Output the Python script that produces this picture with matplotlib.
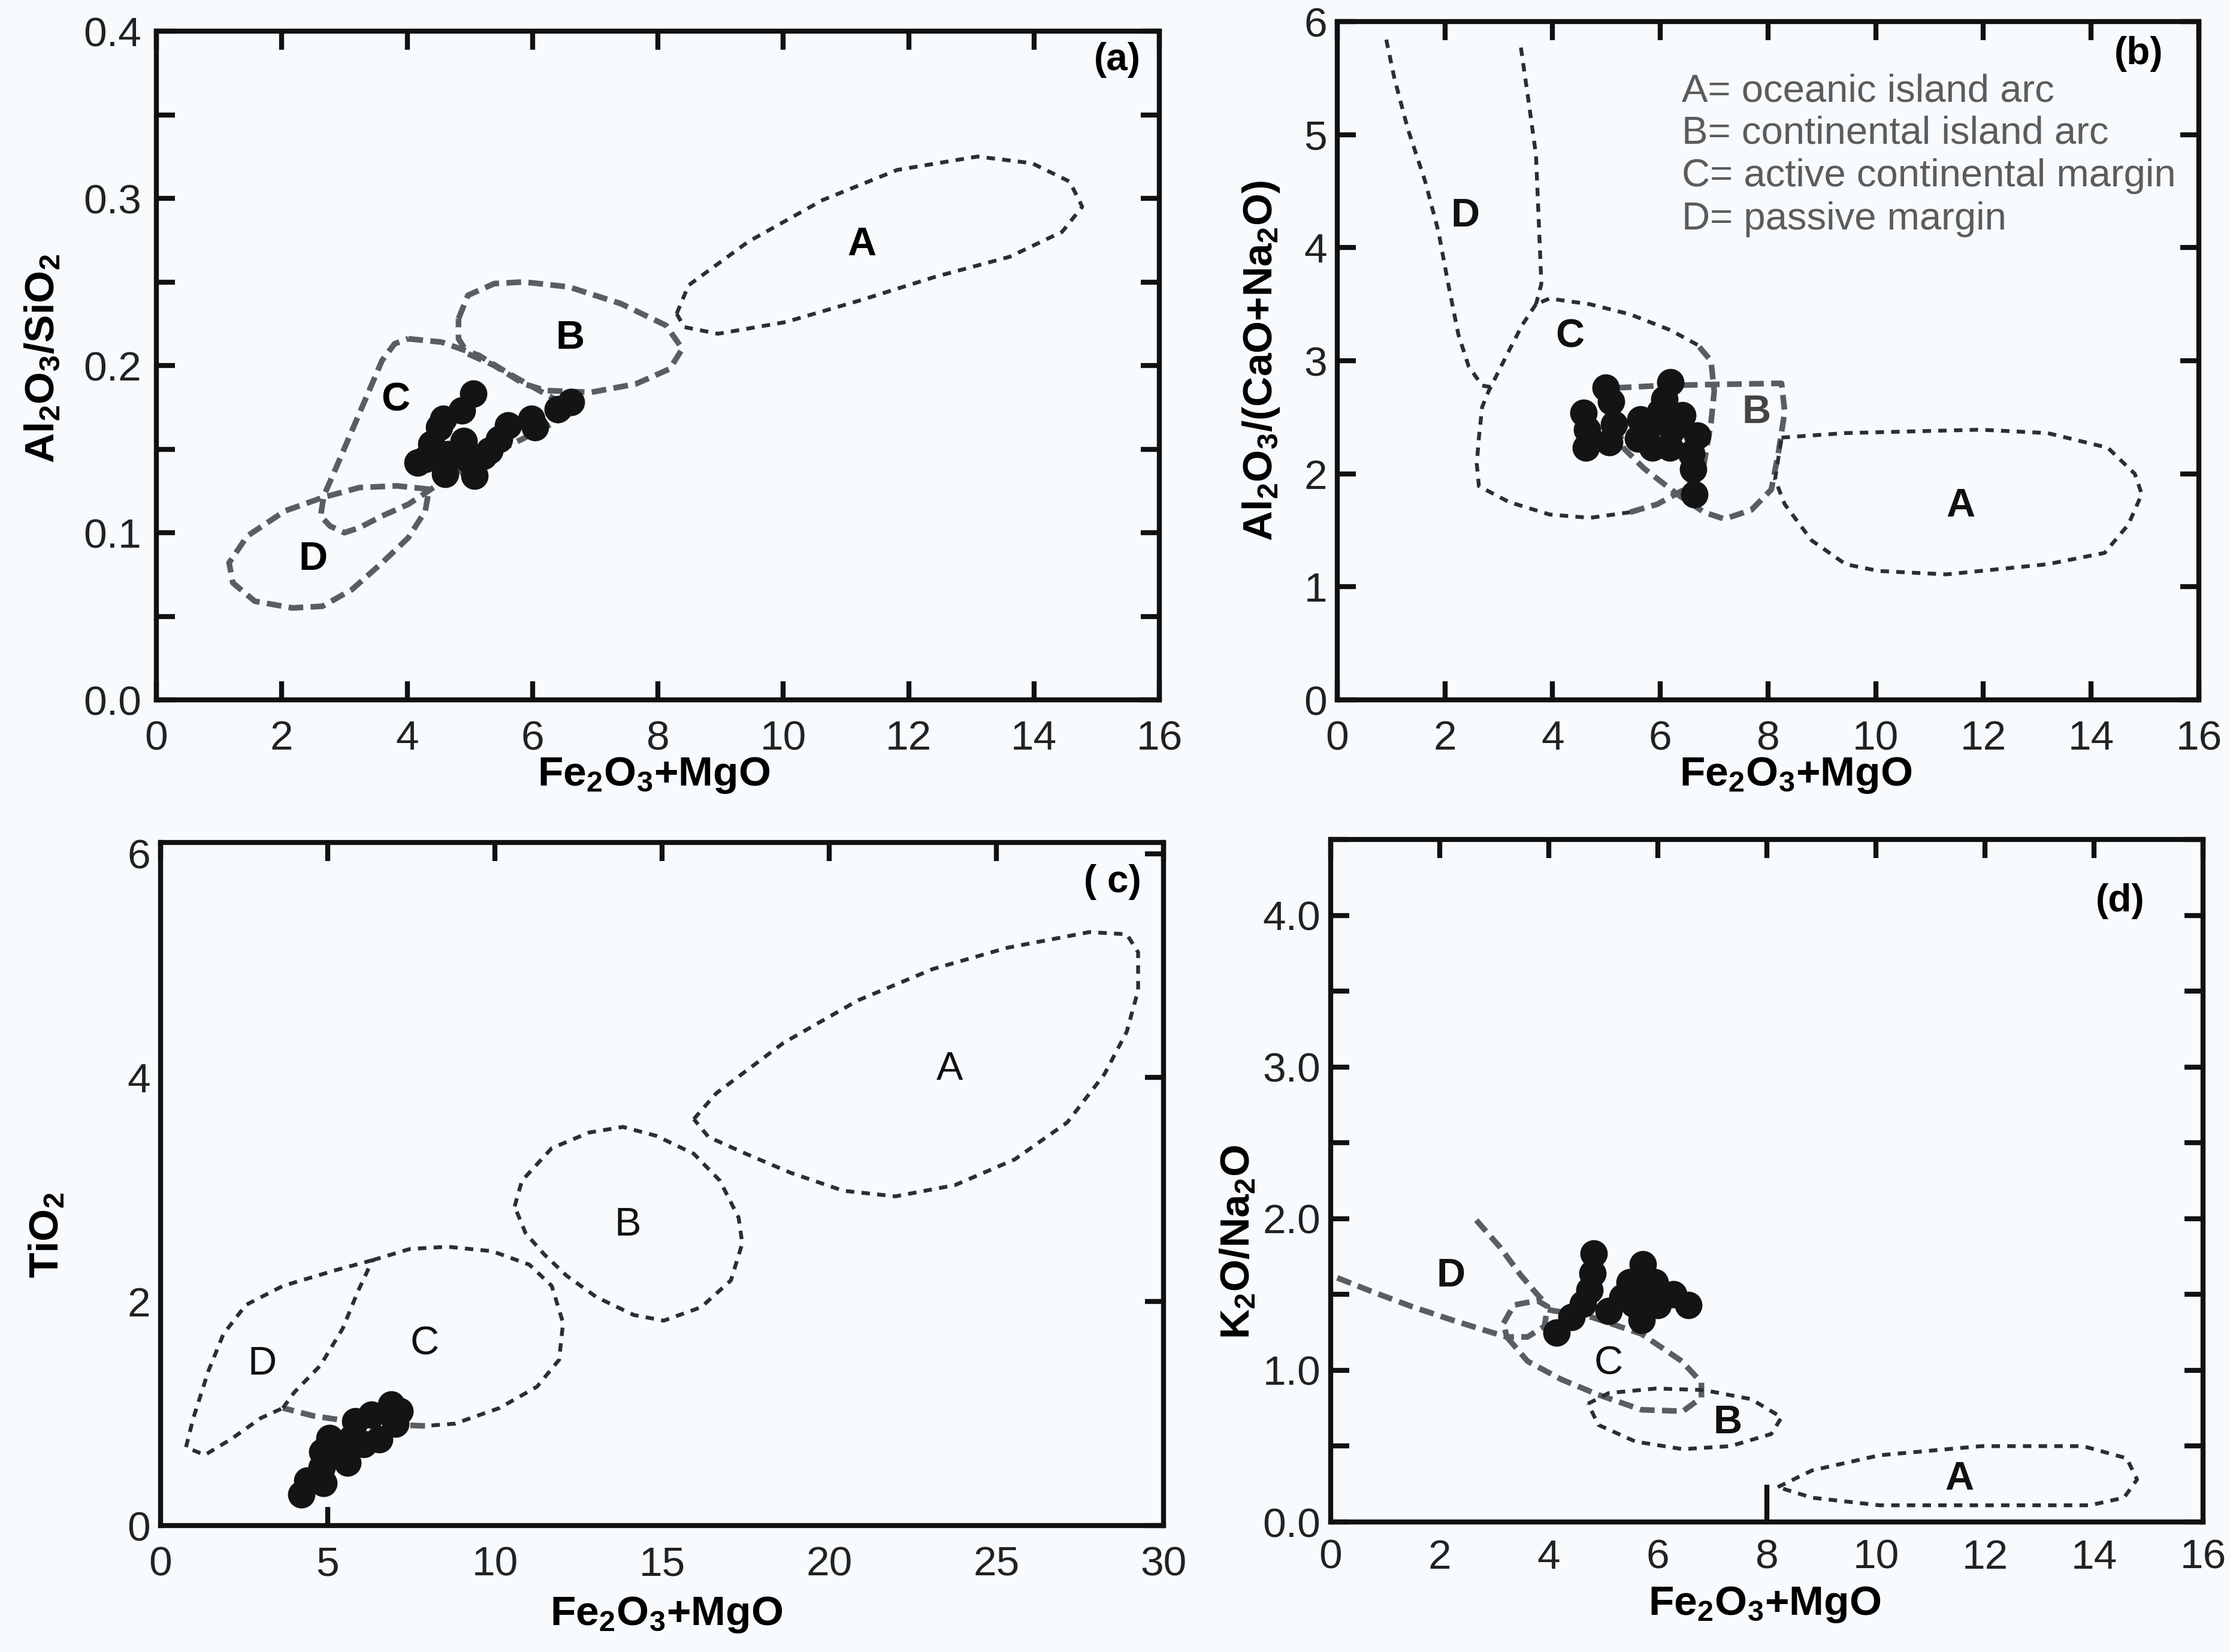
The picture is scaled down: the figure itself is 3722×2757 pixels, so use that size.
import matplotlib
matplotlib.use('Agg')
import matplotlib.pyplot as plt
from matplotlib.ticker import MultipleLocator

plt.rcParams['font.family'] = ['Liberation Sans Narrow', 'DejaVu Sans Condensed', 'Liberation Sans', 'DejaVu Sans']
plt.rcParams['mathtext.fontset'] = 'custom'
plt.rcParams['mathtext.rm'] = 'Liberation Sans'
plt.rcParams['mathtext.it'] = 'Liberation Sans:italic'
plt.rcParams['mathtext.bf'] = 'Liberation Sans:bold'

# ---------------- data: panel (a) ----------------
a_A_x = [8.30, 8.49, 9.44, 10.63, 11.82, 13.1, 13.97, 14.57, 14.77, 14.45, 13.61, 12.42, 11.23, 10.04, 8.96, 8.42, 8.30]
a_A_y = [0.231, 0.248, 0.274, 0.299, 0.317, 0.325, 0.321, 0.310, 0.295, 0.280, 0.265, 0.253, 0.239, 0.226, 0.219, 0.223, 0.231]
a_B_x = [4.82, 4.97, 5.39, 5.86, 6.58, 7.41, 8.13, 8.39, 8.19, 7.65, 6.94, 6.22, 5.86, 5.39, 4.97, 4.82, 4.82]
a_B_y = [0.228, 0.242, 0.249, 0.250, 0.247, 0.237, 0.224, 0.210, 0.198, 0.189, 0.184, 0.185, 0.189, 0.200, 0.207, 0.216, 0.228]
a_C_x = [4.02, 4.55, 5.15, 5.63, 6.11, 6.45, 6.75, 6.30, 5.89, 5.40, 4.90, 4.50, 4.30,
         4.02, 3.60, 3.24, 3.00, 2.77, 2.62, 2.67, 2.88, 3.12, 3.36, 3.60, 3.80, 4.02]
a_C_y = [0.216, 0.214, 0.206, 0.195, 0.185, 0.178, 0.174, 0.165, 0.157, 0.148, 0.137, 0.129, 0.124,
         0.117, 0.110, 0.103, 0.100, 0.104, 0.110, 0.122, 0.140, 0.161, 0.182, 0.203, 0.213, 0.216]
a_D_x = [4.35, 3.84, 3.24, 2.65, 2.05, 1.45, 1.16, 1.22, 1.57, 2.17, 2.65, 3.12, 3.60, 4.02, 4.29, 4.35]
a_D_y = [0.126, 0.128, 0.127, 0.121, 0.113, 0.098, 0.082, 0.070, 0.059, 0.055, 0.056, 0.066, 0.082, 0.097, 0.113, 0.126]
a_pts_x = [5.06, 4.87, 4.58, 4.51, 4.39, 4.17, 4.61, 4.90, 4.96, 5.08, 5.31, 5.47, 5.61, 5.98, 6.04, 6.40, 6.61, 5.22, 4.65, 4.29]
a_pts_y = [0.183, 0.173, 0.168, 0.163, 0.153, 0.142, 0.135, 0.155, 0.144, 0.134, 0.149, 0.156, 0.164, 0.168, 0.163, 0.174, 0.178, 0.146, 0.147, 0.144]
a_labels = ['A', 'B', 'C', 'D']
a_lab_x = [11.25, 6.6, 3.82, 2.5]
a_lab_y = [0.272, 0.216, 0.179, 0.084]

# ---------------- data: panel (b) ----------------
b_D1_x = [0.91, 1.06, 1.31, 1.63, 1.88, 2.06, 2.25, 2.44, 2.69, 2.94]
b_D1_y = [5.84, 5.50, 5.05, 4.59, 4.14, 3.68, 3.23, 2.95, 2.78, 2.76]
b_D2_x = [3.41, 3.56, 3.69, 3.75, 3.79, 3.69]
b_D2_y = [5.77, 5.27, 4.82, 4.14, 3.68, 3.50]
b_C_x = [3.69, 3.44, 3.19, 3.00, 2.81, 2.69, 2.63, 2.59, 2.63, 3.19, 3.94, 4.69, 5.44,
         5.94, 6.44, 6.81, 6.94, 7.00, 6.94, 6.69, 6.19, 5.44, 4.69, 3.94, 3.69]
b_C_y = [3.50, 3.32, 3.09, 2.91, 2.73, 2.59, 2.32, 2.09, 1.89, 1.75, 1.64, 1.61, 1.66,
         1.73, 1.86, 2.09, 2.45, 2.73, 3.00, 3.14, 3.27, 3.41, 3.50, 3.55, 3.50]
b_B_x = [5.19, 6.00, 7.00, 8.25, 8.31, 8.19, 8.06, 7.69, 7.19, 6.81, 6.31, 5.69, 5.31, 5.19, 5.19]
b_B_y = [2.76, 2.78, 2.79, 2.80, 2.55, 2.18, 1.86, 1.68, 1.60, 1.66, 1.82, 2.05, 2.23, 2.50, 2.76]
b_A_x = [8.25, 9.44, 11.94, 13.19, 14.31, 14.81, 14.94, 14.69, 14.25, 13.19, 11.31, 10.06, 9.44, 8.81, 8.31, 8.13, 8.25]
b_A_y = [2.32, 2.36, 2.39, 2.36, 2.23, 2.00, 1.82, 1.55, 1.30, 1.20, 1.11, 1.14, 1.20, 1.41, 1.73, 1.95, 2.32]
b_pts_x = [4.99, 5.08, 4.57, 4.64, 4.62, 5.05, 5.14, 5.63, 5.58, 5.85, 6.19, 6.08, 6.00, 6.41, 6.22, 6.18, 6.69, 6.58, 6.61, 6.63, 5.80]
b_pts_y = [2.76, 2.64, 2.54, 2.39, 2.23, 2.28, 2.44, 2.48, 2.31, 2.23, 2.81, 2.66, 2.55, 2.52, 2.39, 2.23, 2.34, 2.18, 2.04, 1.82, 2.43]
b_labels = ['D', 'C', 'B', 'A']
b_lab_x = [2.38, 4.32, 7.78, 11.58]
b_lab_y = [4.28, 3.21, 2.54, 1.71]
b_legend = ['A= oceanic island arc', 'B= continental island arc',
            'C= active continental margin', 'D= passive margin']
b_leg_y = [5.38, 5.01, 4.63, 4.25]

# ---------------- data: panel (c) ----------------
c_A_x = [15.95, 16.62, 18.63, 20.86, 23.10, 25.33, 27.79, 28.90, 29.24, 29.24, 28.90, 28.23, 27.12,
         25.55, 23.76, 21.98, 20.42, 18.85, 17.51, 16.39, 15.95]
c_A_y = [3.63, 3.86, 4.31, 4.69, 4.97, 5.16, 5.30, 5.28, 5.12, 4.78, 4.41, 4.03, 3.60,
         3.27, 3.04, 2.94, 2.99, 3.15, 3.32, 3.47, 3.63]
c_B_x = [10.59, 10.81, 11.70, 12.82, 13.83, 14.83, 15.95, 16.73, 17.29, 17.40, 17.06, 16.17, 15.05,
         14.16, 13.04, 12.15, 11.48, 10.92, 10.59]
c_B_y = [2.85, 3.08, 3.37, 3.51, 3.56, 3.48, 3.32, 3.08, 2.75, 2.52, 2.19, 1.95, 1.83,
         1.88, 2.04, 2.23, 2.42, 2.61, 2.85]
c_C_x = [6.34, 7.46, 8.58, 9.92, 11.03, 11.70, 12.04, 11.92, 11.26, 10.14, 8.80, 7.91,
         7.01, 5.67, 4.56, 3.66, 4.00, 4.78, 5.45, 5.90, 6.34]
c_C_y = [2.37, 2.47, 2.49, 2.45, 2.33, 2.14, 1.81, 1.48, 1.24, 1.05, 0.91, 0.89,
         0.90, 0.93, 0.98, 1.05, 1.19, 1.43, 1.76, 2.09, 2.37]
c_D_x = [6.34, 5.23, 3.66, 2.55, 1.88, 1.43, 0.98, 0.76, 1.32, 2.10, 3.00, 3.66]
c_D_y = [2.37, 2.28, 2.14, 1.97, 1.71, 1.38, 0.96, 0.70, 0.63, 0.77, 0.96, 1.05]
c_pts_x = [4.21, 4.39, 4.87, 4.82, 4.84, 5.05, 5.59, 5.23, 5.82, 6.31, 6.90, 7.03, 6.54, 6.08, 5.72, 5.41, 7.15]
c_pts_y = [0.28, 0.40, 0.38, 0.52, 0.66, 0.78, 0.56, 0.63, 0.93, 0.99, 1.08, 0.91, 0.77, 0.73, 0.78, 0.70, 1.02]
c_labels = ['A', 'B', 'C', 'D']
c_lab_x = [23.6, 13.98, 7.9, 3.04]
c_lab_y = [4.07, 2.68, 1.62, 1.44]

# ---------------- data: panel (d) ----------------
d_D1_x = [0.12, 0.75, 1.49, 2.24, 2.86, 3.23]
d_D1_y = [1.61, 1.52, 1.42, 1.33, 1.26, 1.22]
d_D2_x = [2.67, 3.11, 3.48, 3.79, 3.92]
d_D2_y = [1.99, 1.81, 1.63, 1.50, 1.45]
d_loop_x = [3.17, 3.36, 3.79, 3.98, 3.92, 3.61, 3.23, 3.17]
d_loop_y = [1.31, 1.43, 1.46, 1.42, 1.29, 1.22, 1.22, 1.31]
d_C_x = [3.23, 3.61, 4.23, 4.90, 5.70, 6.46, 6.80, 6.80, 6.44, 5.70, 4.79, 3.98]
d_C_y = [1.22, 1.06, 0.94, 0.84, 0.74, 0.73, 0.82, 0.92, 1.06, 1.24, 1.35, 1.40]
d_B_x = [4.72, 5.10, 5.97, 6.84, 7.71, 8.27, 8.08, 7.33, 6.46, 5.59, 4.91, 4.72]
d_B_y = [0.78, 0.85, 0.88, 0.87, 0.81, 0.69, 0.58, 0.50, 0.48, 0.53, 0.64, 0.78]
d_A_x = [8.20, 8.83, 10.07, 11.93, 13.80, 14.60, 14.79, 14.55, 13.92, 11.93, 10.07, 8.83, 8.20]
d_A_y = [0.23, 0.34, 0.44, 0.50, 0.50, 0.42, 0.28, 0.16, 0.11, 0.11, 0.11, 0.16, 0.23]
d_mark_x = [8.0, 8.0]
d_mark_y = [0.0, 0.23]
d_pts_x = [4.82, 4.80, 4.75, 4.63, 4.42, 4.14, 5.10, 5.35, 5.48, 5.73, 5.95, 5.70, 5.78, 6.29, 6.56, 6.00, 5.56]
d_pts_y = [1.77, 1.64, 1.53, 1.44, 1.35, 1.25, 1.39, 1.48, 1.58, 1.70, 1.58, 1.33, 1.47, 1.50, 1.43, 1.43, 1.44]
d_labels = ['D', 'C', 'B', 'A']
d_lab_x = [2.2, 5.1, 7.28, 11.53]
d_lab_y = [1.62, 1.04, 0.65, 0.28]
d_lab_weight = ['bold', 'normal', 'bold', 'bold']

# ---------------- style ----------------
BG = '#f8fbfd'
THIN = dict(color='#2c2f32', lw=2.3, dashes=(2.2, 1.9), dash_capstyle='butt')
THICK = dict(color='#5a5e63', lw=3.4, dashes=(2.6, 1.3), dash_capstyle='butt')
PT = dict(ls='none', marker='o', ms=16.5, color='#141414', mec='none', zorder=5)
TICKFS = 25
LABFS = 25
XLAB = r'$\mathbf{Fe_2O_3{+}MgO}$'

fig = plt.figure(figsize=(3723 / 200, 2757 / 200), dpi=200, facecolor=BG)
W, H = 3723, 2757


def make_ax(l, r, t, b):
    return fig.add_axes([l / W, 1 - b / H, (r - l) / W, (b - t) / H], facecolor=BG)


def common(ax):
    for s in ax.spines.values():
        s.set_linewidth(3.0)
        s.set_color('#111111')
    ax.tick_params(which='both', direction='in', length=11, width=3.0, color='#111111',
                   labelsize=TICKFS, labelcolor='#222222')


# ---------- (a) ----------
ax = make_ax(261, 1935, 52, 1168)
common(ax)
ax.set_xlim(0, 16)
ax.set_ylim(0, 0.4)
ax.set_xticks(range(0, 17, 2))
ax.set_yticks([0, 0.1, 0.2, 0.3, 0.4])
ax.set_yticklabels(['0.0', '0.1', '0.2', '0.3', '0.4'])
ax.yaxis.set_minor_locator(MultipleLocator(0.05))
ax.tick_params(which='both', top=True, right=True)
ax.tick_params(axis='y', pad=9)
ax.tick_params(axis='x', pad=12)
ax.plot(a_A_x, a_A_y, **THIN)
ax.plot(a_B_x, a_B_y, **THICK)
ax.plot(a_C_x, a_C_y, **THICK)
ax.plot(a_D_x, a_D_y, **THICK)
ax.plot(a_pts_x, a_pts_y, **PT)
for s, x, y in zip(a_labels, a_lab_x, a_lab_y):
    ax.text(x, y, s, fontsize=24, fontweight='bold', family='Liberation Sans', ha='center', va='center')
ax.text(0.958, 0.957, '(a)', transform=ax.transAxes, fontsize=23, fontweight='bold',
        family='Liberation Sans', ha='center', va='center')
ax.set_xlabel(XLAB, fontsize=LABFS)
ax.xaxis.set_label_coords(0.496, -0.113)
ax.xaxis.label.set_va('center')
ax.set_ylabel(r'$\mathbf{Al_2O_3/SiO_2}$', fontsize=LABFS)
ax.yaxis.set_label_coords(-0.113, 0.51)
ax.yaxis.label.set_va('center')

# ---------- (b) ----------
ax = make_ax(2232, 3670, 36, 1168)
common(ax)
ax.set_xlim(0, 16)
ax.set_ylim(0, 6)
ax.set_xticks(range(0, 17, 2))
ax.set_yticks(range(0, 7))
ax.tick_params(which='both', top=True, right=True)
ax.tick_params(axis='y', pad=6)
ax.tick_params(axis='x', pad=12)
ax.plot(b_D1_x, b_D1_y, **THIN)
ax.plot(b_D2_x, b_D2_y, **THIN)
ax.plot(b_C_x[:13], b_C_y[:13], **THIN)
ax.plot(b_C_x[12:20], b_C_y[12:20], **THICK)
ax.plot(b_C_x[19:], b_C_y[19:], **THIN)
ax.plot(b_B_x, b_B_y, **THICK)
ax.plot(b_A_x, b_A_y, **THIN)
ax.plot(b_pts_x, b_pts_y, **PT)
for s, x, y in zip(b_labels, b_lab_x, b_lab_y):
    col = '#454545' if s == 'B' else '#111111'
    ax.text(x, y, s, fontsize=24, fontweight='bold', family='Liberation Sans', ha='center', va='center', color=col)
for s, y in zip(b_legend, b_leg_y):
    ax.text(6.4, y, s, fontsize=23.5, color='#5c5c5c', ha='left', va='center', family='Liberation Sans')
ax.text(0.93, 0.952, '(b)', transform=ax.transAxes, fontsize=23, fontweight='bold',
        family='Liberation Sans', ha='center', va='center')
ax.set_xlabel(XLAB, fontsize=LABFS)
ax.xaxis.set_label_coords(0.532, -0.111)
ax.xaxis.label.set_va('center')
ax.set_ylabel(r'$\mathbf{Al_2O_3/(CaO{+}Na_2O)}$', fontsize=LABFS)
ax.yaxis.set_label_coords(-0.088, 0.50)
ax.yaxis.label.set_va('center')

# ---------- (c) ----------
ax = make_ax(268, 1942, 1406, 2546)
common(ax)
ax.set_xlim(0, 30)
ax.set_ylim(0, 6.1)
ax.set_xticks(range(0, 31, 5))
ax.set_yticks([0, 2, 4, 6])
ax.xaxis.remove_overlapping_locs = False
ax.set_xticks([5], minor=True)
ax.tick_params(axis='x', which='major', bottom=False, top=True, labelbottom=True, pad=12)
ax.tick_params(axis='x', which='minor', bottom=True, top=False)
ax.tick_params(axis='y', which='major', left=False, right=True, labelleft=True, pad=6)
ax.plot(c_A_x, c_A_y, **THIN)
ax.plot(c_B_x, c_B_y, **THIN)
ax.plot(c_C_x[:12], c_C_y[:12], **THIN)
ax.plot(c_C_x[11:16], c_C_y[11:16], **THICK)
ax.plot(c_C_x[15:], c_C_y[15:], **THIN)
ax.plot(c_D_x, c_D_y, **THIN)
ax.plot(c_pts_x, c_pts_y, **PT)
for s, x, y in zip(c_labels, c_lab_x, c_lab_y):
    ax.text(x, y, s, fontsize=24, family='Liberation Sans', ha='center', va='center', color='#111111')
ax.text(0.949, 0.942, '( c)', transform=ax.transAxes, fontsize=23, fontweight='bold',
        family='Liberation Sans', ha='center', va='center')
ax.set_xlabel(XLAB, fontsize=LABFS)
ax.xaxis.set_label_coords(0.504, -0.131)
ax.xaxis.label.set_va('center')
ax.set_ylabel(r'$\mathbf{TiO_2}$', fontsize=LABFS)
ax.yaxis.set_label_coords(-0.113, 0.425)
ax.yaxis.label.set_va('center')

# ---------- (d) ----------
ax = make_ax(2221, 3677, 1401, 2540)
common(ax)
ax.set_xlim(0, 16)
ax.set_ylim(0, 4.5)
ax.set_xticks(range(0, 17, 2))
ax.set_yticks([0, 1, 2, 3, 4])
ax.set_yticklabels(['0.0', '1.0', '2.0', '3.0', '4.0'])
ax.yaxis.set_minor_locator(MultipleLocator(0.5))
ax.tick_params(axis='x', which='major', bottom=False, top=True, labelbottom=True, pad=10)
ax.tick_params(axis='y', which='both', left=True, right=True, pad=6)
ax.plot(d_D1_x, d_D1_y, **THICK)
ax.plot(d_D2_x, d_D2_y, **THICK)
ax.plot(d_loop_x, d_loop_y, **THICK)
ax.plot(d_C_x, d_C_y, **THICK)
ax.plot(d_B_x, d_B_y, **THIN)
ax.plot(d_A_x, d_A_y, **THIN)
ax.plot(d_mark_x, d_mark_y, color='#111111', lw=3.0)
ax.plot(d_pts_x, d_pts_y, **PT)
for s, x, y, w in zip(d_labels, d_lab_x, d_lab_y, d_lab_weight):
    ax.text(x, y, s, fontsize=24, fontweight=w, family='Liberation Sans', ha='center', va='center', color='#111111')
ax.text(0.905, 0.91, '(d)', transform=ax.transAxes, fontsize=23, fontweight='bold',
        family='Liberation Sans', ha='center', va='center')
ax.set_xlabel(XLAB, fontsize=LABFS)
ax.xaxis.set_label_coords(0.497, -0.121)
ax.xaxis.label.set_va('center')
ax.set_ylabel(r'$\mathbf{K_2O/Na_2O}$', fontsize=LABFS)
ax.yaxis.set_label_coords(-0.106, 0.41)
ax.yaxis.label.set_va('center')

fig.savefig('out.png', dpi=200, facecolor=BG)
